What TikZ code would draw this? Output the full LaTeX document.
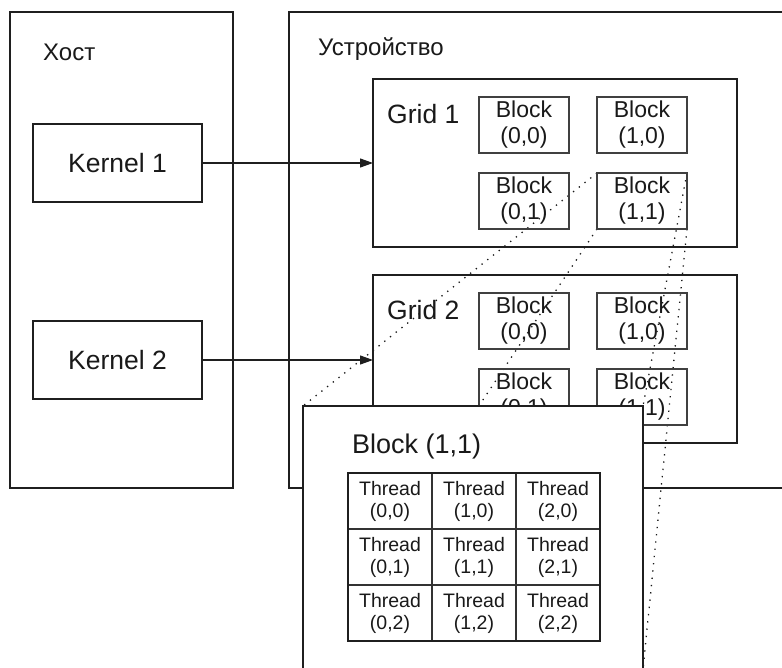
\documentclass[tikz,border=0pt]{standalone}
\usepackage{fontspec}
\setmainfont{Liberation Sans}
\usetikzlibrary{arrows.meta}
\pgfdeclarelayer{behind}
\pgfsetlayers{behind,main}

\begin{document}
\begin{tikzpicture}[x=1pt, y=-1pt,
  ink/.style={draw=black!88, line width=1.3pt},
  frame/.style={ink, inner sep=0pt, outer sep=0pt},
  kernelbox/.style={frame, minimum width=169pt, minimum height=78pt,
    text=black!90, font=\fontsize{26.5}{30}\selectfont},
  gridbox/.style={frame, minimum width=364pt, minimum height=168pt},
  blockbox/.style={draw=black!75, line width=1.3pt, inner sep=0pt, outer sep=0pt,
    minimum width=90pt, minimum height=56pt, align=center, text=black!90,
    font=\fontsize{23}{26}\selectfont},
  threadbox/.style={draw=black!80, line width=1.1pt, inner sep=0pt, outer sep=0pt,
    minimum width=84pt, minimum height=56pt, align=center, text=black!90,
    font=\fontsize{19.5}{22}\selectfont},
  title/.style={anchor=west, inner sep=0pt, text=black!90},
  arr/.style={ink, line width=1.2pt, -{Triangle[length=13pt,width=9pt]}},
  zoomline/.style={draw=black!90, line width=1.3pt, dash pattern=on 1.3pt off 6pt}
]
\clip (0,0) rectangle (782,668);

% host and device areas
\node[frame, minimum width=223pt, minimum height=476pt] (host) at (121.5,250) {};
\node[frame, minimum width=511pt, minimum height=476pt] (device) at (544.5,250) {};
\node[title, font=\fontsize{24}{28}\selectfont] (hostlbl) at (43,52) {Хост};
\node[title, font=\fontsize{24}{28}\selectfont] (devlbl) at (318,49) {Устройство};

% kernels
\node[kernelbox] (k1) at (117.5,163) {Kernel 1};
\node[kernelbox] (k2) at (117.5,360) {Kernel 2};

% grids
\node[gridbox] (g1) at (555,163) {};
\node[gridbox] (g2) at (555,359) {};
\node[title, font=\fontsize{26.5}{30}\selectfont] (g1lbl) at (387,114) {Grid 1};
\node[title, font=\fontsize{26.5}{30}\selectfont] (g2lbl) at (387,310) {Grid 2};

% blocks of grid 1
\node[blockbox] (g1b00) at (524,125) {Block\\(0,0)};
\node[blockbox] (g1b10) at (642,125) {Block\\(1,0)};
\node[blockbox] (g1b01) at (524,201) {Block\\(0,1)};
\node[blockbox] (g1b11) at (642,201) {Block\\(1,1)};

% blocks of grid 2
\node[blockbox] (g2b00) at (524,321) {Block\\(0,0)};
\node[blockbox] (g2b10) at (642,321) {Block\\(1,0)};
\node[blockbox] (g2b01) at (524,397) {Block\\(0,1)};
\node[blockbox] (g2b11) at (642,397) {Block\\(1,1)};

% kernel launches
\draw[arr] (k1.east) -- (k1.east -| g1.west);
\draw[arr] (k2.east) -- (k2.east -| g2.west);

% enlarged block (1,1)
\node[frame, fill=white, minimum width=340pt, minimum height=263.5pt] (detail) at (473,537.75) {};
\node[title, font=\fontsize{27}{30}\selectfont] (detlbl) at (352,447) {Block (1,1)};

% projection lines from the block to its enlarged view
\begin{pgfonlayer}{behind}
  \draw[zoomline] (g1b11.north west) -- (detail.north west);
  \draw[zoomline] (g1b11.south west) -- (detail.south west);
  \draw[zoomline] (g1b11.north east) -- (detail.north east);
  \draw[zoomline] (g1b11.south east) -- (detail.south east);
\end{pgfonlayer}

% threads of the block
\foreach \c/\x in {0/390,1/474,2/558}{
  \foreach \r/\y in {0/501,1/557,2/613}{
    \node[threadbox] (t\c\r) at (\x,\y) {Thread\\(\c,\r)};
  }
}
\draw[ink] (t00.north west) rectangle (t22.south east);
\end{tikzpicture}
\end{document}
